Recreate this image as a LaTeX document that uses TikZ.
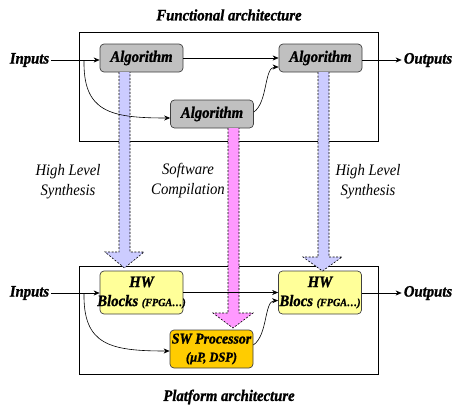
\documentclass[tikz,border=0pt]{standalone}
\usepackage{fontspec}
\setmainfont{Liberation Serif}[FakeStretch=0.92, BoldItalicFeatures={FakeBold=1.2}]
\usetikzlibrary{arrows.meta,calc}
\definecolor{algray}{HTML}{C0C0C0}
\definecolor{hwyel}{HTML}{FFFF99}
\definecolor{swor}{HTML}{FFCC00}
\definecolor{lav}{HTML}{CCCCFF}
\definecolor{pinkc}{HTML}{FF99FF}
\begin{document}
\begin{tikzpicture}[x=1pt,y=-1pt,
  bi/.style={font=\fontsize{16}{19}\selectfont\bfseries\itshape},
  itl/.style={font=\fontsize{16}{20}\selectfont\itshape, align=center, inner sep=0pt},
  boxbase/.style={draw=black!75, line width=0.7pt, rounded corners=4pt, inner sep=0pt, minimum width=83pt, align=center, bi},
  alg/.style={boxbase, fill=algray, minimum height=28pt},
  hw/.style={boxbase, fill=hwyel, minimum height=43pt},
  sw/.style={boxbase, fill=swor, minimum height=38pt},
  frame/.style={draw=black, line width=0.7pt},
  conn/.style={draw=black, line width=0.6pt, -{Stealth[length=6pt,width=5pt]}},
  fat/.style={draw=black, line width=0.6pt, dash pattern=on 2pt off 1.5pt}
]
\useasboundingbox (0,0) rectangle (452,410);

% frames
\draw[frame] (79,32) rectangle (378,141);
\draw[frame] (79,266) rectangle (378,374);

% titles
\node[bi] (t1) at (229,15) {Functional architecture};
\node[bi] (t2) at (229,397) {Platform architecture};

% top nodes
\node[alg] (a1) at (141.5,58) {Algorithm};
\node[alg] (a3) at (320.5,58) {Algorithm};
\node[alg] (a2) at (212,114) {Algorithm};
\node[bi, inner sep=2pt] (in1) at (29.5,60) {Inputs};
\node[bi, inner sep=2pt] (out1) at (428,60) {Outputs};

% bottom nodes
\node[hw] (h1) at (141.5,292.5) {HW\\\makebox[0pt][c]{Blocks {\fontsize{11}{12}\selectfont(FPGA…)}}};
\node[hw] (h2) at (320,292.5) {HW\\\makebox[0pt][c]{Blocs {\fontsize{11}{12}\selectfont(FPGA…)}}};
\node[sw, font=\fontsize{15}{18}\selectfont\bfseries\itshape] (s1) at (211.5,349) {\makebox[0pt][c]{SW Processor}\\{\fontsize{13.5}{14}\selectfont(µP, DSP)}};
\node[bi, inner sep=2pt] (in2) at (29.5,293) {Inputs};
\node[bi, inner sep=2pt] (out2) at (428,293) {Outputs};

% labels
\node[itl] (l1) at (68,182) {High Level\\Synthesis};
\node[itl] (l2) at (188,181) {Software\\Compilation};
\node[itl] (l3) at (368,182) {High Level\\Synthesis};

% fat arrows
\filldraw[fat, fill=lav] (119,72) -- (119,252) -- (105,252) -- (124.5,268) -- (144,252) -- (130,252) -- (130,72);
\filldraw[fat, fill=lav] (318,72) -- (318,257) -- (303,257) -- (322.5,271) -- (342,257) -- (329,257) -- (329,72);
\filldraw[fat, fill=pinkc] (228,128) -- (228,313) -- (213,313) -- (233,328) -- (253,313) -- (239,313) -- (239,128);

% top connectors
\coordinate (j1) at (84,60);
\draw[conn] (in1.east) -- (a1.west|-in1.east);
\draw[conn] (a1.east) -- (a3.west);
\draw[conn] (a3.east|-out1.west) -- (out1.west);
\draw[conn] (j1) .. controls (83,112) and (110,118) .. ($(a2.west)+(0,4)$);
\draw[conn] ($(a2.east)+(0,-2)$) .. controls (268,102) and (264,67) .. ($(a3.west)+(0,9)$);

% bottom connectors
\coordinate (j2) at (84,293);
\draw[conn] (in2.east) -- (h1.west|-in2.east);
\draw[conn] (h1.east) -- (h2.west);
\draw[conn] (h2.east|-out2.west) -- (out2.west);
\draw[conn] (j2) .. controls (83,345) and (110,351) .. ($(s1.west)+(0,2)$);
\draw[conn] ($(s1.east)+(0,-4)$) .. controls (268,335) and (264,301) .. ($(h2.west)+(0,8)$);
\end{tikzpicture}
\end{document}
